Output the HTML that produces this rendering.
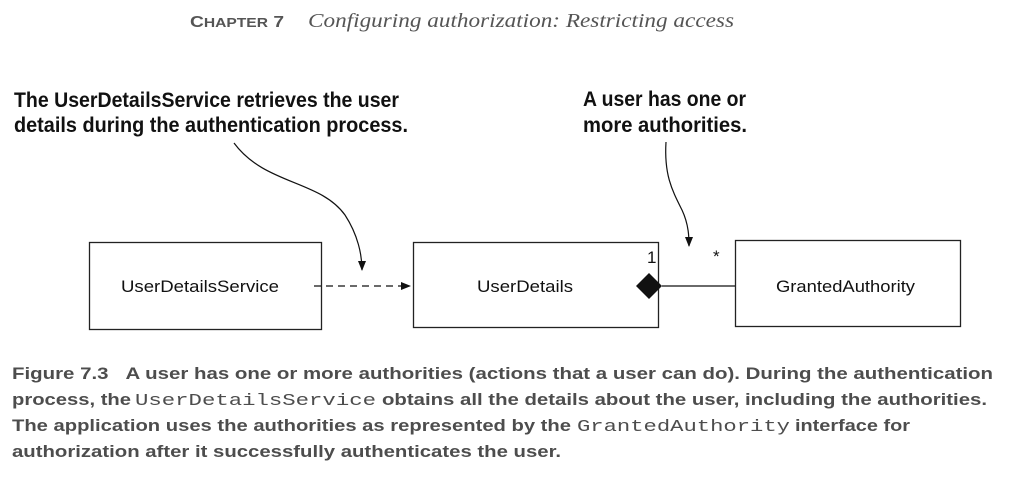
<!DOCTYPE html>
<html><head><meta charset="utf-8"><style>
html,body{margin:0;padding:0;background:#fff;}
svg{display:block;}
.a{font-family:"Liberation Sans Narrow","Liberation Sans",sans-serif;font-weight:bold;font-size:21px;fill:#111;}
.c{font-family:"Liberation Sans",sans-serif;font-weight:bold;font-size:17px;fill:#4d4d4d;}
.m{font-family:"Liberation Mono",monospace;font-weight:normal;font-size:17px;fill:#4d4d4d;}
.b{font-family:"Liberation Sans",sans-serif;font-size:17px;fill:#111;}
</style></head><body>
<svg width="1010" height="479" viewBox="0 0 1010 479" xmlns="http://www.w3.org/2000/svg">
<defs>
<marker id="ah" markerWidth="10" markerHeight="10" refX="9" refY="5" orient="auto" markerUnits="userSpaceOnUse">
<path d="M0,1 L10,5 L0,9 Z" fill="#111"/></marker>
</defs>
<!-- title -->
<text x="190" y="27" font-family="Liberation Sans Narrow, Liberation Sans, sans-serif" font-weight="bold" font-size="16" fill="#555" textLength="94" lengthAdjust="spacingAndGlyphs">C<tspan font-size="13">HAPTER</tspan> 7</text>
<text x="308" y="27" font-family="Liberation Serif, serif" font-style="italic" font-size="20" fill="#555" textLength="426" lengthAdjust="spacingAndGlyphs">Configuring authorization: Restricting access</text>
<!-- annotations -->
<text class="a" x="14" y="107" textLength="385" lengthAdjust="spacingAndGlyphs">The UserDetailsService retrieves the user</text>
<text class="a" x="14" y="132" textLength="394" lengthAdjust="spacingAndGlyphs">details during the authentication process.</text>
<text class="a" x="583" y="106" textLength="163" lengthAdjust="spacingAndGlyphs">A user has one or</text>
<text class="a" x="583" y="132" textLength="164" lengthAdjust="spacingAndGlyphs">more authorities.</text>
<!-- callout arrows -->
<path d="M234,143 C265,185 320,180 345,215 C358,235 362,255 362,270" fill="none" stroke="#111" stroke-width="1.2" marker-end="url(#ah)"/>
<path d="M666,142 C664,175 672,190 682,210 C689,225 689,238 689,246" fill="none" stroke="#111" stroke-width="1.2" marker-end="url(#ah)"/>
<!-- boxes -->
<rect x="89.5" y="242.5" width="232" height="87" fill="none" stroke="#222" stroke-width="1.3"/>
<rect x="413.5" y="242.5" width="245" height="85" fill="none" stroke="#222" stroke-width="1.3"/>
<rect x="735.5" y="240.5" width="225" height="86" fill="none" stroke="#222" stroke-width="1.3"/>
<text class="b" x="121" y="292" textLength="158" lengthAdjust="spacingAndGlyphs">UserDetailsService</text>
<text class="b" x="477" y="292" textLength="96" lengthAdjust="spacingAndGlyphs">UserDetails</text>
<text class="b" x="776" y="292" textLength="139" lengthAdjust="spacingAndGlyphs">GrantedAuthority</text>
<!-- dashed dependency -->
<line x1="314" y1="286" x2="410" y2="286" stroke="#111" stroke-width="1.3" stroke-dasharray="7,5" marker-end="url(#ah)"/>
<!-- composition -->
<path d="M636,286 L649,273 L662,286 L649,299 Z" fill="#111"/>
<line x1="662" y1="286" x2="735" y2="286" stroke="#111" stroke-width="1.3"/>
<text class="b" x="647" y="263" font-size="15">1</text>
<text class="b" x="713" y="262" font-size="15">*</text>
<!-- caption -->
<text class="c" x="12" y="379" textLength="981" lengthAdjust="spacingAndGlyphs">Figure 7.3&#160;&#160;&#160;A user has one or more authorities (actions that a user can do). During the authentication</text>
<text class="c" x="12" y="405" textLength="119" lengthAdjust="spacingAndGlyphs">process, the</text>
<text class="m" x="135" y="405" textLength="241" lengthAdjust="spacingAndGlyphs">UserDetailsService</text>
<text class="c" x="382" y="405" textLength="605" lengthAdjust="spacingAndGlyphs">obtains all the details about the user, including the authorities.</text>
<text class="c" x="12" y="431" textLength="559" lengthAdjust="spacingAndGlyphs">The application uses the authorities as represented by the</text>
<text class="m" x="577" y="431" textLength="213" lengthAdjust="spacingAndGlyphs">GrantedAuthority</text>
<text class="c" x="795" y="431" textLength="115" lengthAdjust="spacingAndGlyphs">interface for</text>
<text class="c" x="12" y="457" textLength="549" lengthAdjust="spacingAndGlyphs">authorization after it successfully authenticates the user.</text>
</svg>
</body></html>
